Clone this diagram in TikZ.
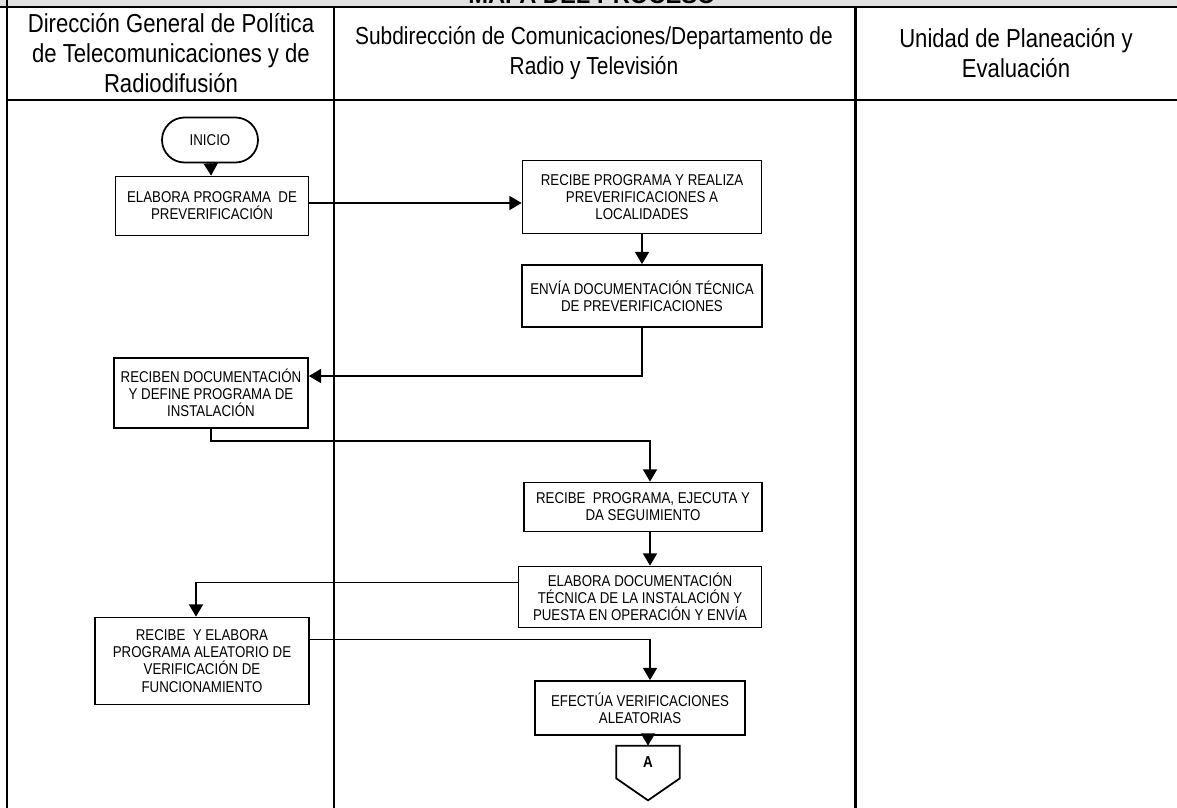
\documentclass[tikz,border=0pt]{standalone}
\usepackage{fontspec}
\setmainfont{Liberation Sans}[FakeStretch=0.85]
\newfontfamily\titfont{Liberation Sans}
\usetikzlibrary{arrows.meta,positioning}

\begin{document}
\begin{tikzpicture}[x=0.02cm,y=-0.02cm,>={Triangle[length=7pt,width=8pt]},
  caja/.style={draw,line width=1pt,align=center,inner sep=2pt,font=\fontsize{8.9}{9.8}\selectfont},
  flujo/.style={->,line width=1pt},
  carril/.style={line width=1.7pt},
  encabezado/.style={align=center,font=\fontsize{14.8}{17}\selectfont}]

\useasboundingbox (0,0) rectangle (1177,808);

% Table
\fill[black!12] (0,0) rectangle (1177,7);
\node[font=\titfont\bfseries\fontsize{13.5}{17}\selectfont, anchor=base] (titulo) at (592,4) {MAPA DEL PROCESO};
\draw[carril] (0,7) -- (1177,7) (7,0) -- (7,808) (334,7) -- (334,808) (855,7) -- (855,808) (7,100) -- (1177,100);

\path
(171,53)  node[encabezado] (dg) {Dirección General de Política\\de Telecomunicaciones y de\\Radiodifusión}
(594,53)  node[encabezado, font=\fontsize{14}{17}\selectfont] (sc) {Subdirección de Comunicaciones/Departamento de\\Radio y Televisión}
(1016,53) node[encabezado] (up) {Unidad de Planeación y\\Evaluación};

% Step 1
\path
(210,140)   node[caja, rounded corners=0.45cm, minimum width=1.92cm, minimum height=0.9cm] (inicio) {INICIO}
(212,206)   node[caja, minimum width=3.86cm, minimum height=1.18cm] (elabora) {ELABORA PROGRAMA \ DE\\PREVERIFICACIÓN}
(642,197)   node[caja, minimum width=4.78cm, minimum height=1.46cm] (recibe) {RECIBE PROGRAMA Y REALIZA\\PREVERIFICACIONES A\\LOCALIDADES}
(642,296)   node[caja, minimum width=4.8cm, minimum height=1.24cm] (envia) {ENVÍA DOCUMENTACIÓN TÉCNICA\\DE PREVERIFICACIONES};

\draw[flujo] (inicio) -- (elabora);
\draw[flujo] ([yshift=0.06cm]elabora.east) -- ([yshift=0.06cm]elabora.east -| recibe.west);
\draw[flujo] (recibe) -- (envia);
% End step 1

% Step 2
\path
(211,393)   node[caja, minimum width=3.88cm, minimum height=1.4cm] (reciben) {RECIBEN DOCUMENTACIÓN\\Y DEFINE PROGRAMA DE\\INSTALACIÓN}
(643,507)   node[caja, minimum width=4.76cm, minimum height=0.98cm] (ejecuta) {RECIBE \ PROGRAMA, EJECUTA Y\\DA SEGUIMIENTO}
(640,597)   node[caja, minimum width=4.86cm, minimum height=1.22cm] (documenta) {ELABORA DOCUMENTACIÓN\\TÉCNICA DE LA INSTALACIÓN Y\\PUESTA EN OPERACIÓN Y ENVÍA};

\draw[flujo] (envia.south) |- ([yshift=0.34cm]reciben.east);
\draw[flujo] (reciben.south) -- ++(0,12) -| ([xshift=0.14cm]ejecuta.north);
\draw[flujo] ([xshift=0.14cm]ejecuta.south) -- ([xshift=0.14cm]ejecuta.south |- documenta.north);
% end of Step 2

% step 3
\path
(202,661)   node[caja, minimum width=4.28cm, minimum height=1.74cm] (aleatorio) {RECIBE \ Y ELABORA\\PROGRAMA ALEATORIO DE\\VERIFICACIÓN DE\\FUNCIONAMIENTO}
(640,708)   node[caja, minimum width=4.2cm, minimum height=1.08cm] (efectua) {EFECTÚA VERIFICACIONES\\ALEATORIAS}
(648,762)   node[minimum width=1.26cm, minimum height=0.64cm, inner sep=0pt, font=\bfseries\small] (conA) {A};
% off-page connector
\draw[line width=1pt] (conA.north west) -- (conA.north east) -- (conA.south east) -- ([yshift=-0.44cm]conA.south) -- (conA.south west) -- cycle;

\draw[flujo] ([yshift=0.29cm]documenta.west) -| ([xshift=-0.12cm]aleatorio.north);
\draw[flujo] ([yshift=0.43cm]aleatorio.east) -| ([xshift=0.2cm]efectua.north);
\draw[flujo] (efectua.south -| conA.north) -- (conA.north);

\end{tikzpicture}
\end{document}
